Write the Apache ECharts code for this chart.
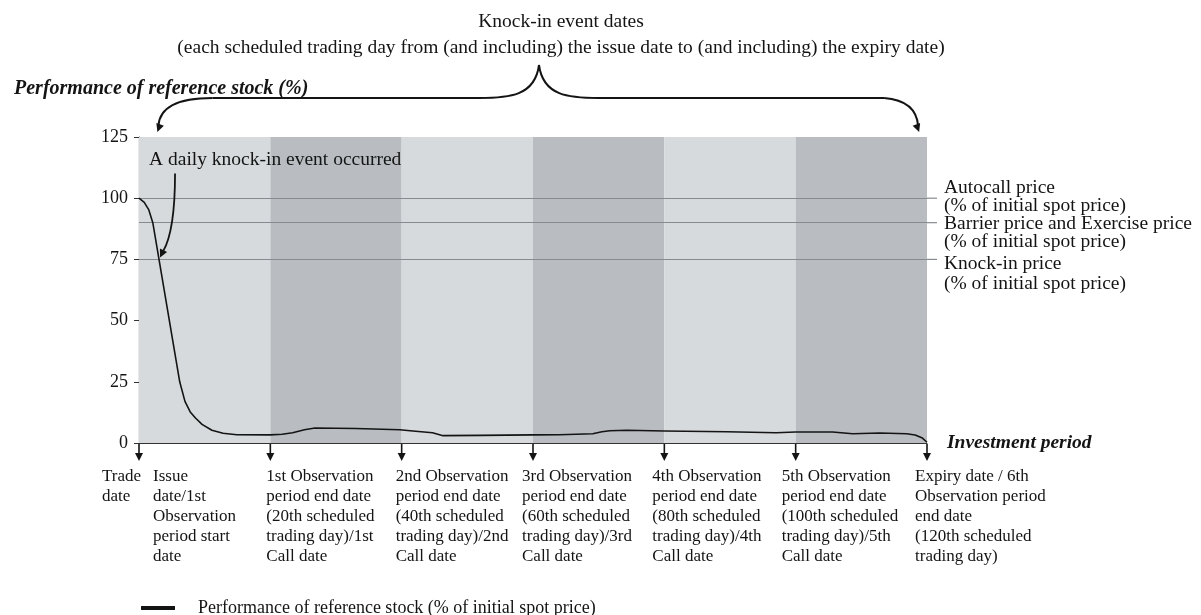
<!DOCTYPE html>
<html lang="en">
<head>
    <meta charset="UTF-8">
    <title>Knock-in event dates</title>
    <script type="text/javascript" src="https://cdn.jsdelivr.net/npm/echarts@6/dist/echarts.min.js"></script>
    <style>
        body { margin: 0; background: #fff; }
    </style>
</head>
<body>
<div id="main" style="width: 1201px; height: 615px"></div>

<script type="text/javascript">
    // trading day / performance (% of initial spot price)
    var days = [0, 0.8, 1.5, 2.1, 6.2, 7.0, 7.8, 8.6, 9.6, 11.1, 12.8, 14.9, 20, 21.8, 23.4, 25.2, 26.8, 33, 39.7, 41.7, 44.7, 46.3, 52, 60, 64, 69.1, 70.5, 71.7, 74.3, 80, 89.5, 97, 100, 105.6, 108.7, 112.8, 116.9, 118.2, 119.3, 120];
    var perf = [100, 98.3, 95.2, 90, 25, 17, 12.7, 10.2, 7.6, 5.2, 4.0, 3.4, 3.3, 3.6, 4.2, 5.4, 6.1, 5.9, 5.4, 4.9, 4.2, 3.0, 3.1, 3.3, 3.4, 3.8, 4.6, 5.0, 5.2, 4.9, 4.6, 4.2, 4.5, 4.5, 3.8, 4.1, 3.8, 3.3, 2.0, 0.3];

    // observation periods (shaded bands)
    var bandStart = [0, 20, 40, 60, 80, 100];
    var bandEnd = [20, 40, 60, 80, 100, 120];

    // reference price levels
    var levelNames = ['Autocall price\n(% of initial spot price)', 'Barrier price and Exercise price\n(% of initial spot price)', 'Knock-in price\n(% of initial spot price)'];
    var levelValues = [100, 90, 75];

    // day on which the knock-in event is marked
    var knockInDay = 2.9;

    // x-axis milestones
    var milestoneDays = [0, 0, 20, 40, 60, 80, 100, 120];
    var milestoneLabels = [
        'Trade\ndate',
        'Issue\ndate/1st\nObservation\nperiod start\ndate',
        '1st Observation\nperiod end date\n(20th scheduled\ntrading day)/1st\nCall date',
        '2nd Observation\nperiod end date\n(40th scheduled\ntrading day)/2nd\nCall date',
        '3rd Observation\nperiod end date\n(60th scheduled\ntrading day)/3rd\nCall date',
        '4th Observation\nperiod end date\n(80th scheduled\ntrading day)/4th\nCall date',
        '5th Observation\nperiod end date\n(100th scheduled\ntrading day)/5th\nCall date',
        'Expiry date / 6th\nObservation period\nend date\n(120th scheduled\ntrading day)'
    ];
    var labelShift = [-37, 14, -4, -6, -11, -12, -14, -12];
    // how far each level label starts above its line, and its line spacing
    var levelRise = [20, 9, 6];
    var levelLineHeight = [18, 18, 20];

    var serif = 'Liberation Serif';
    var ink = '#141414';
    var levelGray = '#878b8f';
    var lightBand = '#d6dadc';
    var darkBand = '#b9bdc1';
    var stockName = 'Performance of reference stock (% of initial spot price)';

    var myChart = echarts.init(document.getElementById('main'));

    var areas = [];
    for (var i = 0; i < bandStart.length; i++) {
        areas.push([
            {xAxis: bandStart[i], yAxis: 0, itemStyle: {color: i % 2 === 0 ? lightBand : darkBand}},
            {xAxis: bandEnd[i], yAxis: 125}
        ]);
    }

    var levelLines = [];
    for (var j = 0; j < levelValues.length; j++) {
        levelLines.push({yAxis: levelValues[j], name: levelNames[j]});
    }

    var lineData = [];
    for (var k = 0; k < days.length; k++) {
        lineData.push([days[k], perf[k]]);
    }

    option = {
        animation: false,
        textStyle: {fontFamily: serif},
        title: [{
            text: 'Knock-in event dates\n(each scheduled trading day from (and including) the issue date to (and including) the expiry date)',
            left: 556,
            top: 4,
            textAlign: 'center',
            textStyle: {fontFamily: serif, fontSize: 19.5, fontWeight: 'normal', color: ink, lineHeight: 26}
        }, {
            text: 'Performance of reference stock (%)',
            left: 9,
            top: 74,
            textStyle: {fontFamily: serif, fontSize: 20, fontWeight: 'bold', fontStyle: 'italic', color: ink}
        }],
        legend: {
            left: 136,
            top: 594,
            icon: 'rect',
            itemWidth: 34,
            itemHeight: 4,
            textStyle: {fontFamily: serif, fontSize: 18, color: ink, padding: [0, 0, 0, 18]},
            data: [stockName]
        },
        grid: {left: 139, right: 274, top: 137, bottom: 172},
        xAxis: {
            type: 'value',
            min: 0,
            max: 120,
            interval: 20,
            name: 'Investment period',
            nameLocation: 'end',
            nameGap: 20,
            nameTextStyle: {fontFamily: serif, fontSize: 19.5, fontWeight: 'bold', fontStyle: 'italic', color: ink},
            axisLine: {lineStyle: {color: '#333', width: 1.2}},
            axisTick: {show: false},
            axisLabel: {show: false},
            splitLine: {show: false}
        },
        yAxis: {
            type: 'value',
            min: 0,
            max: 125,
            interval: 25,
            axisLine: {show: true, lineStyle: {color: '#333', width: 1.2}},
            axisTick: {show: true, length: 5, lineStyle: {color: '#333'}},
            axisLabel: {fontFamily: serif, fontSize: 18, color: ink, margin: 11},
            splitLine: {show: false}
        },
        series: [{
            // shaded observation periods
            name: 'bands',
            type: 'line',
            z: 1,
            data: lineData,
            symbol: 'none',
            lineStyle: {opacity: 0},
            silent: true,
            markArea: {silent: true, data: areas}
        }, {
            name: stockName,
            type: 'line',
            z: 5,
            data: lineData,
            smooth: false,
            showSymbol: false,
            symbol: 'none',
            lineStyle: {color: ink, width: 1.6, join: 'round'},
            itemStyle: {color: ink},
            markLine: {
                silent: true,
                symbol: ['none', 'none'],
                lineStyle: {color: levelGray, width: 1.2, type: 'solid'},
                label: {show: false},
                data: levelLines
            }
        }]
    };

    myChart.setOption(option);

    // annotations drawn after layout, positioned from the axes
    function px(x, y) {
        return myChart.convertToPixel({gridIndex: 0}, [x, y]);
    }

    function arrowHead(tip, angle, color) {
        var s = 8, w = 4;
        var bx = tip[0] - s * Math.cos(angle), by = tip[1] - s * Math.sin(angle);
        var nx = -Math.sin(angle) * w, ny = Math.cos(angle) * w;
        return {
            type: 'polygon',
            z: 100,
            shape: {points: [[tip[0], tip[1]], [bx + nx, by + ny], [bx - nx, by - ny]]},
            style: {fill: color}
        };
    }

    var g = [];
    var base = px(0, 0)[1];
    var rightEdge = px(120, 0)[0];

    // level lines run a little past the plot, with their labels
    for (var q = 0; q < levelValues.length; q++) {
        var ly = px(120, levelValues[q])[1];
        g.push({type: 'line', z: 100, shape: {x1: rightEdge, y1: ly, x2: rightEdge + 10, y2: ly}, style: {stroke: levelGray, lineWidth: 1.2}});
        g.push({
            type: 'text',
            z: 100,
            left: rightEdge + 17,
            top: ly - levelRise[q],
            style: {text: levelNames[q], font: '19.5px "Liberation Serif"', lineHeight: levelLineHeight[q], fill: ink}
        });
    }

    // milestone arrows and labels
    var seen = {};
    for (var m = 0; m < milestoneDays.length; m++) {
        var p = px(milestoneDays[m], 0);
        if (!seen[milestoneDays[m]]) {
            seen[milestoneDays[m]] = true;
            g.push({type: 'line', z: 100, shape: {x1: p[0], y1: base + 1, x2: p[0], y2: base + 12}, style: {stroke: ink, lineWidth: 1.6}});
            g.push(arrowHead([p[0], base + 18], Math.PI / 2, ink));
        }
        g.push({
            type: 'text',
            z: 100,
            left: p[0] + labelShift[m],
            top: base + 24,
            style: {text: milestoneLabels[m], font: '17px "Liberation Serif"', lineHeight: 20, fill: ink}
        });
    }

    // brace over the knock-in period
    var topY = px(0, 125)[1];
    var leftTip = [px(2.8, 0)[0], topY - 5];
    var rightTip = [px(118.8, 0)[0], topY - 5];
    var midX = 539, barY = 98, peakY = 65;
    var braceStyle = {stroke: ink, lineWidth: 2, fill: null};
    g.push({type: 'bezierCurve', z: 100, shape: {x1: midX, y1: peakY, cpx1: midX - 4, cpy1: barY - 2, cpx2: midX - 30, cpy2: barY, x2: midX - 60, y2: barY}, style: braceStyle});
    g.push({type: 'bezierCurve', z: 100, shape: {x1: midX, y1: peakY, cpx1: midX + 4, cpy1: barY - 2, cpx2: midX + 30, cpy2: barY, x2: midX + 60, y2: barY}, style: braceStyle});
    g.push({type: 'line', z: 100, shape: {x1: midX - 60, y1: barY, x2: leftTip[0] + 55, y2: barY}, style: braceStyle});
    g.push({type: 'line', z: 100, shape: {x1: midX + 60, y1: barY, x2: rightTip[0] - 35, y2: barY}, style: braceStyle});
    g.push({type: 'bezierCurve', z: 100, shape: {x1: leftTip[0] + 55, y1: barY, cpx1: leftTip[0] + 15, cpy1: barY, cpx2: leftTip[0] + 2, cpy2: barY + 12, x2: leftTip[0] + 1, y2: leftTip[1] - 6}, style: braceStyle});
    g.push(arrowHead(leftTip, Math.PI / 2 + 0.35, ink));
    g.push({type: 'bezierCurve', z: 100, shape: {x1: rightTip[0] - 35, y1: barY, cpx1: rightTip[0] - 10, cpy1: barY + 2, cpx2: rightTip[0] - 2, cpy2: barY + 14, x2: rightTip[0] - 1, y2: rightTip[1] - 6}, style: braceStyle});
    g.push(arrowHead(rightTip, Math.PI / 2 - 0.35, ink));

    // knock-in event annotation
    var kiPoint = px(knockInDay, levelValues[2]);
    g.push({
        type: 'text',
        z: 100,
        left: kiPoint[0] - 9,
        top: px(0, 120)[1] + 1,
        style: {text: 'A daily knock-in event occurred', font: '19.5px "Liberation Serif"', fill: ink}
    });
    var kiTip = [kiPoint[0] + 2, kiPoint[1] - 2];
    g.push({type: 'bezierCurve', z: 100, shape: {x1: kiPoint[0] + 17, y1: kiPoint[1] - 86, cpx1: kiPoint[0] + 17, cpy1: kiPoint[1] - 45, cpx2: kiPoint[0] + 12, cpy2: kiPoint[1] - 20, x2: kiTip[0] + 3, y2: kiTip[1] - 6}, style: {stroke: ink, lineWidth: 1.8, fill: null}});
    g.push(arrowHead(kiTip, Math.PI / 2 + 0.45, ink));

    myChart.setOption({graphic: g});
</script>
</body>
</html>
